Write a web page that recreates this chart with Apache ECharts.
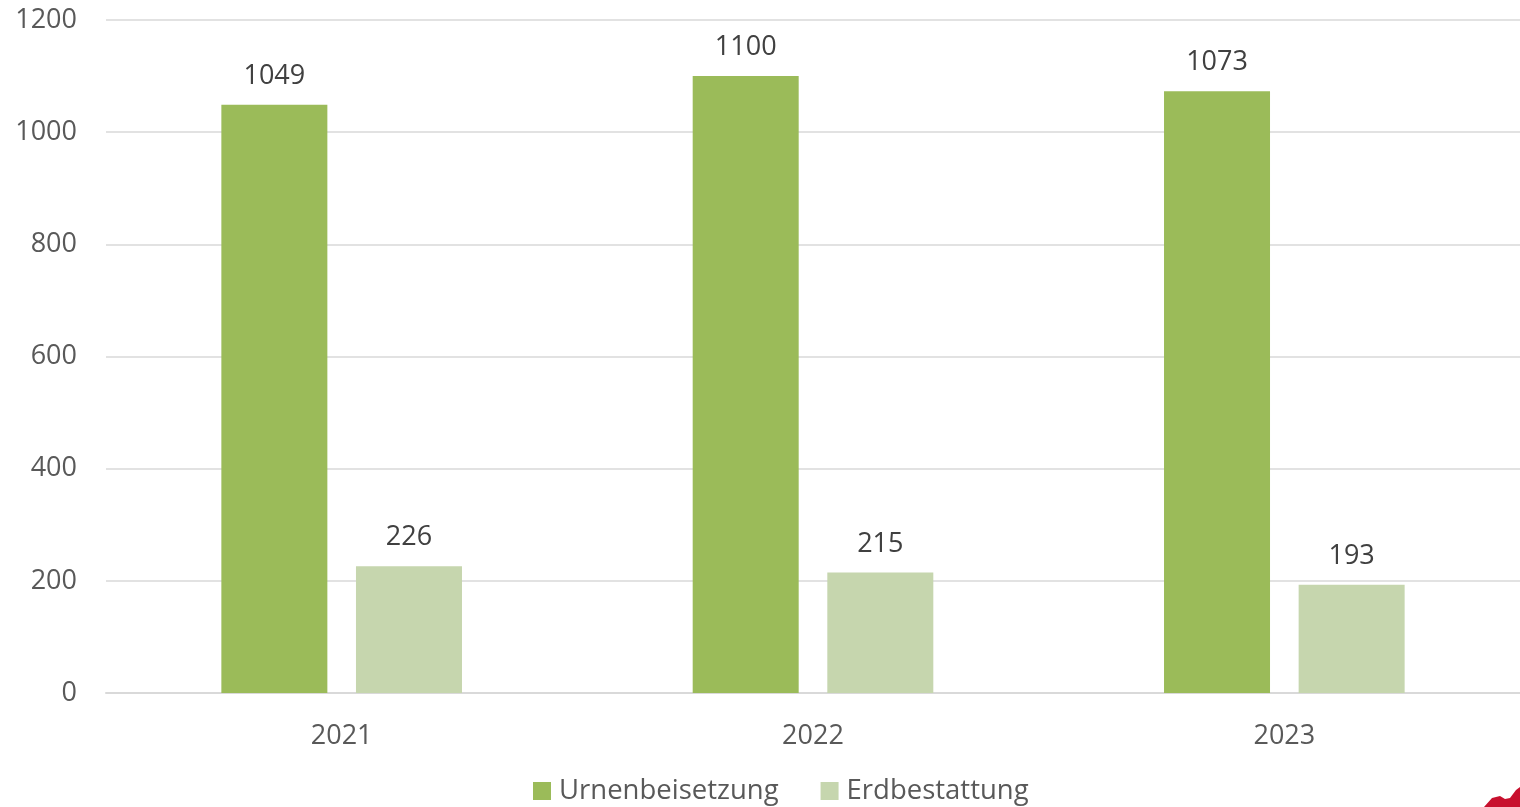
<!DOCTYPE html>
<html><head><meta charset="utf-8">
<script src="https://cdn.jsdelivr.net/npm/echarts@6/dist/echarts.min.js"></script>
<style>html,body{margin:0;padding:0;background:#fff}#c{width:1520px;height:807px}</style>
</head><body><div id="c"></div>
<script>
var categories = ['2021', '2022', '2023'];
var urnenbeisetzung = [1049, 1100, 1073];
var erdbestattung = [226, 215, 193];
var seriesNames = ['Urnenbeisetzung', 'Erdbestattung'];

var chart = echarts.init(document.getElementById('c'));
var font = 'Open Sans';
chart.setOption({
  animation: false,
  grid: {left: 106, width: 1420, top: 20, bottom: 114},
  legend: {
    bottom: -3, left: 528, itemWidth: 18, itemHeight: 18, itemGap: 42,
    icon: 'rect',
    textStyle: {fontFamily: font, fontSize: 27.5, color: '#595959', padding: [0, 0, 0, 3]},
    data: seriesNames
  },
  xAxis: {
    type: 'category', data: categories,
    axisLine: {lineStyle: {color: '#d9d9d9', width: 2}},
    axisTick: {show: false},
    axisLabel: {fontFamily: font, fontSize: 27, color: '#595959', margin: 30}
  },
  yAxis: {
    type: 'value', min: 0, max: 1200, interval: 200,
    axisLine: {show: false}, axisTick: {show: false},
    splitLine: {lineStyle: {color: '#d9d9d9', width: 1.5}},
    axisLabel: {fontFamily: font, fontSize: 27, color: '#595959', margin: 29,
      formatter: function (v) { return String(v); }}
  },
  series: [
    {name: seriesNames[0], type: 'bar', data: urnenbeisetzung, barWidth: 106, barGap: '27%',
     itemStyle: {color: '#9bbb59'},
     label: {show: true, position: 'top', distance: 15, fontFamily: font, fontSize: 27, color: '#404040'}},
    {name: seriesNames[1], type: 'bar', data: erdbestattung, barWidth: 106,
     itemStyle: {color: '#c6d6ae'},
     label: {show: true, position: 'top', distance: 15, fontFamily: font, fontSize: 27, color: '#404040'}}
  ],
  graphic: [{
    type: 'polygon', silent: true,
    shape: {points: [[1484,807],[1492,798],[1500,796],[1505,799],[1510,798],[1516,790],[1520,787],[1520,807]]},
    style: {fill: '#c8102e'}
  }]
});
</script></body></html>
